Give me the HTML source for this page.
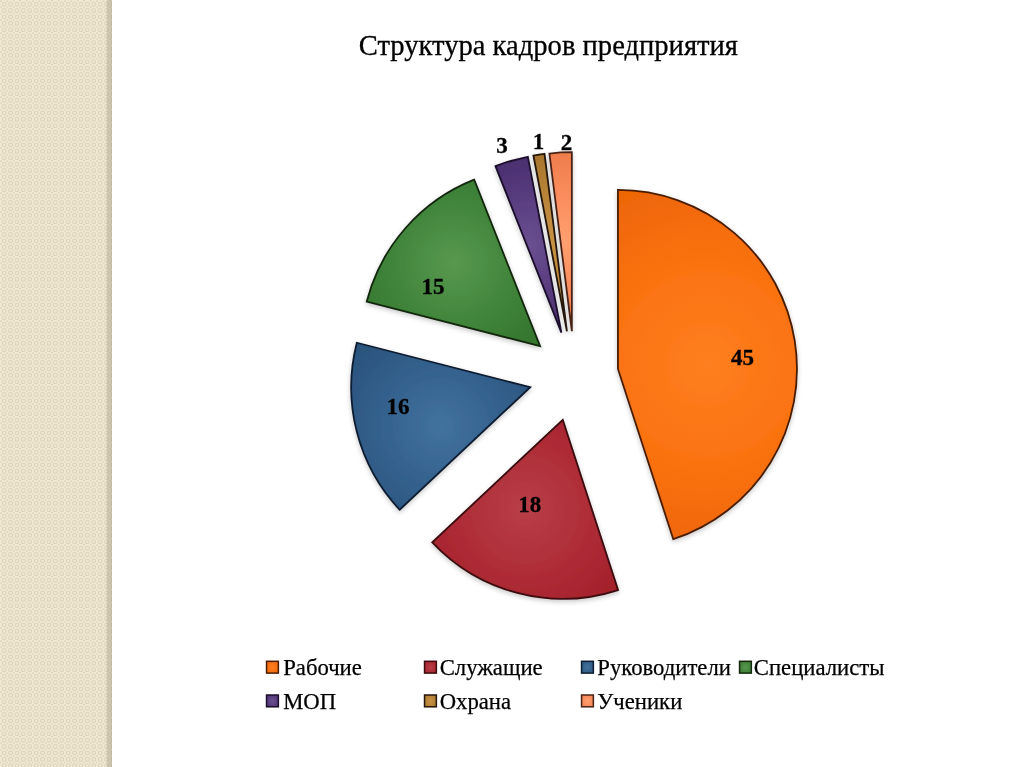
<!DOCTYPE html>
<html lang="ru"><head><meta charset="utf-8"><title>Структура кадров предприятия</title>
<style>
html,body{margin:0;padding:0;background:#fff;}
body{width:1024px;height:767px;position:relative;overflow:hidden;font-family:"Liberation Serif",serif;color:#000;-webkit-font-smoothing:antialiased;}
.title,.lb,.lt{filter:blur(0.35px);}
.strip{position:absolute;left:0;top:0;width:112px;height:767px;background:#EAE1C9;}
.strip svg{position:absolute;left:0;top:0}
.strip .edge{position:absolute;left:105.8px;top:0;width:6.4px;height:100%;background:linear-gradient(to right,rgba(135,129,109,0) 0,rgba(135,129,109,0.26) 18%,rgba(135,129,109,0.36) 100%);}
.title{position:absolute;left:338.4px;width:420px;top:27.75px;text-align:center;font-size:28.6px;line-height:36px;white-space:nowrap;-webkit-text-stroke:0.3px #000;transform:scaleY(1.06);transform-origin:50% 27.65px;}
.pie{position:absolute;left:0;top:0;}
.lb{position:absolute;-webkit-text-stroke:0.3px #000;width:60px;height:30px;line-height:30px;text-align:center;font-weight:bold;font-size:23px;transform:scaleY(1.0);transform-origin:50% 50%;}
.lt{position:absolute;-webkit-text-stroke:0.25px #000;font-size:22.7px;line-height:26px;white-space:nowrap;transform:scaleY(1.0);transform-origin:0 20.6px;}
</style></head><body>
<div class="strip">
<svg width="112" height="767"><defs>
<pattern id="pt" width="6.4" height="6.4" patternUnits="userSpaceOnUse" x="1" y="1">
<rect width="6.4" height="6.4" fill="#F2EAD5"/>
<circle cx="3.2" cy="3.2" r="1.9" fill="none" stroke="#DCD2B9" stroke-width="1.1"/>
<rect x="-0.8" y="-0.8" width="1.6" height="1.6" fill="#DCD2B9"/><rect x="5.6" y="-0.8" width="1.6" height="1.6" fill="#DCD2B9"/><rect x="-0.8" y="5.6" width="1.6" height="1.6" fill="#DCD2B9"/><rect x="5.6" y="5.6" width="1.6" height="1.6" fill="#DCD2B9"/>
</pattern><filter id="pb"><feGaussianBlur stdDeviation="0.5"/></filter></defs>
<rect width="112" height="767" fill="url(#pt)" filter="url(#pb)"/></svg>
<div class="edge"></div>
</div>
<div class="title">Структура кадров предприятия</div>
<svg class="pie" width="1024" height="767" viewBox="0 0 1024 767">
<defs>
<filter id="sh" x="-10%" y="-10%" width="120%" height="120%"><feGaussianBlur in="SourceAlpha" stdDeviation="2.5"/><feOffset dx="0" dy="2" result="b"/><feComponentTransfer><feFuncA type="linear" slope="0.22"/></feComponentTransfer><feMerge><feMergeNode/><feMergeNode in="SourceGraphic"/></feMerge></filter>
<filter id="soft"><feGaussianBlur stdDeviation="0.45"/></filter>
<radialGradient id="g0" gradientUnits="userSpaceOnUse" cx="707.4" cy="364.5" r="186.4"><stop offset="0" stop-color="#FE7E20"/><stop offset="0.55" stop-color="#FA7210"/><stop offset="1" stop-color="#EE6606"/></radialGradient>
<radialGradient id="g1" gradientUnits="userSpaceOnUse" cx="525.2" cy="509.3" r="122.5"><stop offset="0" stop-color="#B83E48"/><stop offset="0.55" stop-color="#AE2C36"/><stop offset="1" stop-color="#A2202A"/></radialGradient>
<radialGradient id="g2" gradientUnits="userSpaceOnUse" cx="440.7" cy="426.3" r="116.3"><stop offset="0" stop-color="#42729E"/><stop offset="0.55" stop-color="#33608C"/><stop offset="1" stop-color="#2A527C"/></radialGradient>
<radialGradient id="g3" gradientUnits="userSpaceOnUse" cx="453.4" cy="262.9" r="114.2"><stop offset="0" stop-color="#58984E"/><stop offset="0.55" stop-color="#40843A"/><stop offset="1" stop-color="#34742E"/></radialGradient>
<radialGradient id="g4" gradientUnits="userSpaceOnUse" cx="528.4" cy="244.7" r="89.2"><stop offset="0" stop-color="#6A5090"/><stop offset="0.55" stop-color="#583C7E"/><stop offset="1" stop-color="#4A2E6E"/></radialGradient>
<radialGradient id="g5" gradientUnits="userSpaceOnUse" cx="550.2" cy="242.6" r="85.8"><stop offset="0" stop-color="#C89244"/><stop offset="0.55" stop-color="#B88438"/><stop offset="1" stop-color="#A8762E"/></radialGradient>
<radialGradient id="g6" gradientUnits="userSpaceOnUse" cx="560.6" cy="241.7" r="85.7"><stop offset="0" stop-color="#FFA070"/><stop offset="0.55" stop-color="#FA8C5C"/><stop offset="1" stop-color="#F07E4E"/></radialGradient>
<radialGradient id="q0" cx="0.5" cy="0.5" r="0.75"><stop offset="0" stop-color="#FE7E20"/><stop offset="1" stop-color="#EE6606"/></radialGradient>
<radialGradient id="q1" cx="0.5" cy="0.5" r="0.75"><stop offset="0" stop-color="#B83E48"/><stop offset="1" stop-color="#A2202A"/></radialGradient>
<radialGradient id="q2" cx="0.5" cy="0.5" r="0.75"><stop offset="0" stop-color="#42729E"/><stop offset="1" stop-color="#2A527C"/></radialGradient>
<radialGradient id="q3" cx="0.5" cy="0.5" r="0.75"><stop offset="0" stop-color="#58984E"/><stop offset="1" stop-color="#34742E"/></radialGradient>
<radialGradient id="q4" cx="0.5" cy="0.5" r="0.75"><stop offset="0" stop-color="#6A5090"/><stop offset="1" stop-color="#4A2E6E"/></radialGradient>
<radialGradient id="q5" cx="0.5" cy="0.5" r="0.75"><stop offset="0" stop-color="#C89244"/><stop offset="1" stop-color="#A8762E"/></radialGradient>
<radialGradient id="q6" cx="0.5" cy="0.5" r="0.75"><stop offset="0" stop-color="#FFA070"/><stop offset="1" stop-color="#F07E4E"/></radialGradient>
</defs>
<g filter="url(#soft)"><g filter="url(#sh)">
<path d="M617.94,368.93L617.94,189.93A179.0,179.0 0 0 1 673.26,539.17Z" fill="url(#g0)" stroke="#4A1E04" stroke-width="1.8" stroke-linejoin="miter"/>
<path d="M562.76,419.78L618.07,590.02A179.0,179.0 0 0 1 432.27,542.31Z" fill="url(#g1)" stroke="#3A0A10" stroke-width="1.8" stroke-linejoin="miter"/>
<path d="M530.22,387.24L399.73,509.77A179.0,179.0 0 0 1 356.84,342.73Z" fill="url(#g2)" stroke="#101E30" stroke-width="1.8" stroke-linejoin="miter"/>
<path d="M540.09,346.11L366.72,301.59A179.0,179.0 0 0 1 474.20,179.68Z" fill="url(#g3)" stroke="#12280E" stroke-width="1.8" stroke-linejoin="miter"/>
<path d="M561.39,332.59L495.50,166.16A179.0,179.0 0 0 1 527.85,156.77Z" fill="url(#g4)" stroke="#1A0E2A" stroke-width="1.8" stroke-linejoin="miter"/>
<path d="M566.93,331.36L533.39,155.53A179.0,179.0 0 0 1 544.49,153.77Z" fill="url(#g5)" stroke="#24160A" stroke-width="1.8" stroke-linejoin="miter"/>
<path d="M571.86,331.19L549.43,153.60A179.0,179.0 0 0 1 571.86,152.19Z" fill="url(#g6)" stroke="#4A2418" stroke-width="1.8" stroke-linejoin="miter"/>
</g></g>
<g filter="url(#soft)">
<rect x="266.55" y="661.30" width="11.8" height="11.8" fill="url(#q0)" stroke="#4A1E04" stroke-width="1.5"/>
<rect x="424.55" y="661.30" width="11.8" height="11.8" fill="url(#q1)" stroke="#3A0A10" stroke-width="1.5"/>
<rect x="581.55" y="661.30" width="11.8" height="11.8" fill="url(#q2)" stroke="#101E30" stroke-width="1.5"/>
<rect x="739.55" y="661.30" width="11.8" height="11.8" fill="url(#q3)" stroke="#12280E" stroke-width="1.5"/>
<rect x="266.55" y="695.00" width="11.8" height="11.8" fill="url(#q4)" stroke="#1A0E2A" stroke-width="1.5"/>
<rect x="424.55" y="695.00" width="11.8" height="11.8" fill="url(#q5)" stroke="#24160A" stroke-width="1.5"/>
<rect x="581.55" y="695.00" width="11.8" height="11.8" fill="url(#q6)" stroke="#4A2418" stroke-width="1.5"/>
</g>
</svg>
<div class="lb" style="left:712.6px;top:343.4px">45</div>
<div class="lb" style="left:499.79999999999995px;top:489.5px">18</div>
<div class="lb" style="left:367.9px;top:391.5px">16</div>
<div class="lb" style="left:403px;top:271.6px">15</div>
<div class="lb" style="left:472px;top:130.5px">3</div>
<div class="lb" style="left:508.4px;top:126.5px">1</div>
<div class="lb" style="left:536.5px;top:127.5px">2</div>

<div class="lt" style="left:283.2px;top:654.70px">Рабочие</div>
<div class="lt" style="left:439.7px;top:654.70px">Служащие</div>
<div class="lt" style="left:597.3px;top:654.70px">Руководители</div>
<div class="lt" style="left:753.8px;top:654.70px">Специалисты</div>
<div class="lt" style="left:283.2px;top:688.90px">МОП</div>
<div class="lt" style="left:439.7px;top:688.90px">Охрана</div>
<div class="lt" style="left:597.3px;top:688.90px">Ученики</div>

</body></html>
